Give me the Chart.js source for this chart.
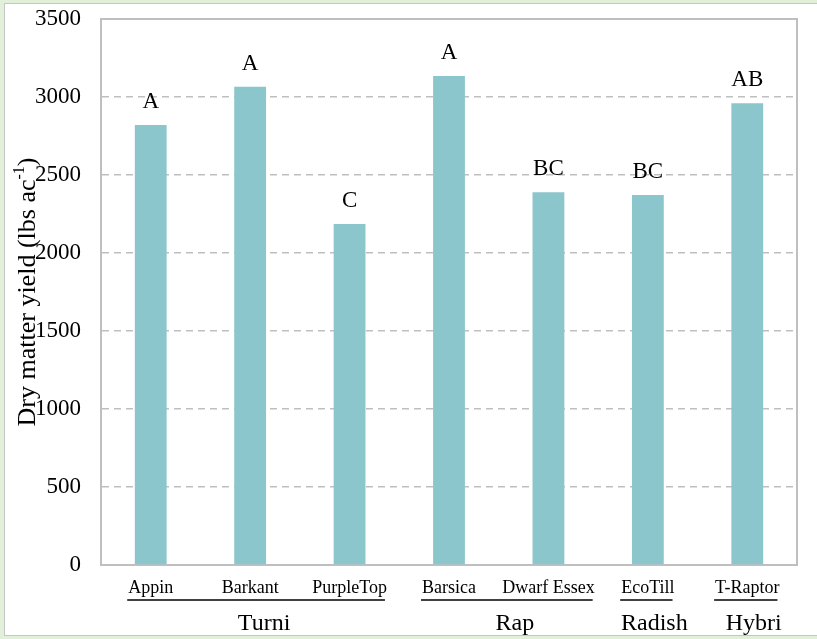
<!DOCTYPE html>
<html>
<head>
<meta charset="utf-8">
<script src="https://cdn.jsdelivr.net/npm/chart.js@4"></script>
<style>
  html, body { margin: 0; padding: 0; }
  body { width: 817px; height: 639px; background: #e2efd9; position: relative; overflow: hidden; }
  #frame { position: absolute; left: 4px; top: 3px; width: 820px; height: 631px; background: #fff; border: 1px solid #c6c6c6; }
  #wrap { position: absolute; left: 0; top: 0; width: 817px; height: 639px; }
</style>
</head>
<body>
<div id="frame"></div>
<div id="wrap"><canvas id="chart"></canvas></div>
<script>
// data
const varieties = ['Appin', 'Barkant', 'PurpleTop', 'Barsica', 'Dwarf Essex', 'EcoTill', 'T-Raptor'];
const yieldValues = [2820, 3065, 2186, 3135, 2390, 2372, 2960];
const letters = ['A', 'A', 'C', 'A', 'BC', 'BC', 'AB'];
const groupNames = ['Turni', 'Rap', 'Radish', 'Hybri'];
const groupSizes = [3, 2, 1, 1];
const yTicks = [0, 500, 1000, 1500, 2000, 2500, 3000, 3500];

const SERIF = '"Liberation Serif", "Times New Roman", serif';
const GRID = '#bfbfbf';

// letters above bars, frame, group lines, axis title
const extras = {
  id: 'extras',
  beforeDatasetsDraw(chart) {
    const { ctx, chartArea: a } = chart;
    ctx.save();
    ctx.strokeStyle = GRID;
    ctx.lineWidth = 2;
    ctx.beginPath();
    ctx.moveTo(a.left, a.top);
    ctx.lineTo(a.right, a.top);
    ctx.lineTo(a.right, a.bottom);
    ctx.stroke();
    ctx.restore();
  },
  afterDraw(chart) {
    const { ctx } = chart;
    const x = chart.scales.x;
    const meta = chart.getDatasetMeta(0);
    ctx.save();

    // significance letters
    ctx.fillStyle = '#000';
    ctx.font = '23px ' + SERIF;
    ctx.textAlign = 'center';
    ctx.textBaseline = 'alphabetic';
    meta.data.forEach((bar, i) => {
      ctx.fillText(letters[i], bar.x, bar.y - 17);
    });

    // group underline + group label
    ctx.font = '18px ' + SERIF;
    let start = 0;
    groupNames.forEach((name, g) => {
      const first = start, last = start + groupSizes[g] - 1;
      const l = x.getPixelForValue(first) - ctx.measureText(varieties[first]).width / 2 - 1;
      const r = x.getPixelForValue(last) + ctx.measureText(varieties[last]).width / 2 - 2;
      ctx.strokeStyle = '#404040';
      ctx.lineWidth = 2;
      ctx.beginPath();
      ctx.moveTo(l, 600);
      ctx.lineTo(r, 600);
      ctx.stroke();
      ctx.save();
      ctx.font = '24px ' + SERIF;
      ctx.fillText(name, (l + r) / 2 + 8, 630);
      ctx.restore();
      start += groupSizes[g];
    });

    // y axis title with superscript
    const t1 = 'Dry matter yield (lbs ac', sup = '-1', t2 = ')';
    ctx.translate(35, 292);
    ctx.rotate(-Math.PI / 2);
    ctx.textAlign = 'left';
    ctx.font = '26px ' + SERIF;
    const w1 = ctx.measureText(t1).width, w3 = ctx.measureText(t2).width;
    ctx.font = '16px ' + SERIF;
    const w2 = ctx.measureText(sup).width;
    let px = -(w1 + w2 + w3) / 2;
    ctx.font = '26px ' + SERIF;
    ctx.fillText(t1, px, 0);
    px += w1;
    ctx.font = '16px ' + SERIF;
    ctx.fillText(sup, px, -11);
    px += w2;
    ctx.font = '26px ' + SERIF;
    ctx.fillText(t2, px, 0);
    ctx.restore();
  }
};

new Chart(document.getElementById('chart'), {
  type: 'bar',
  data: {
    labels: varieties,
    datasets: [{
      data: yieldValues,
      backgroundColor: '#8bc6cd',
      borderWidth: 0,
      barPercentage: 0.32,
      categoryPercentage: 1
    }]
  },
  options: {
    responsive: true,
    maintainAspectRatio: false,
    animation: false,
    layout: { padding: { left: 0, right: 20, top: 19, bottom: 0 } },
    plugins: { legend: { display: false }, tooltip: { enabled: false } },
    scales: {
      x: {
        grid: { display: false, drawTicks: false },
        border: { color: GRID, width: 2 },
        ticks: { color: '#000', font: { family: SERIF, size: 18 }, padding: 12, maxRotation: 0, autoSkip: false },
        afterFit(s) { s.height = 639 - 565; s.paddingLeft = 0; s.paddingRight = 0; }
      },
      y: {
        min: 0,
        max: 3500,
        afterBuildTicks(s) { s.ticks = yTicks.map(v => ({ value: v })); },
        grid: {
          color: (c) => (c.tick.value === 0 || c.tick.value === 3500) ? 'rgba(0,0,0,0)' : GRID,
          lineWidth: 1.5,
          drawTicks: false
        },
        border: { color: GRID, width: 2, dash: [7, 5] },
        ticks: { color: '#000', font: { family: SERIF, size: 23 }, padding: 20, callback: (v) => String(v) },
        afterFit(s) { s.width = 101; s.paddingTop = 0; s.paddingBottom = 0; }
      }
    }
  },
  plugins: [extras]
});
</script>
</body>
</html>
